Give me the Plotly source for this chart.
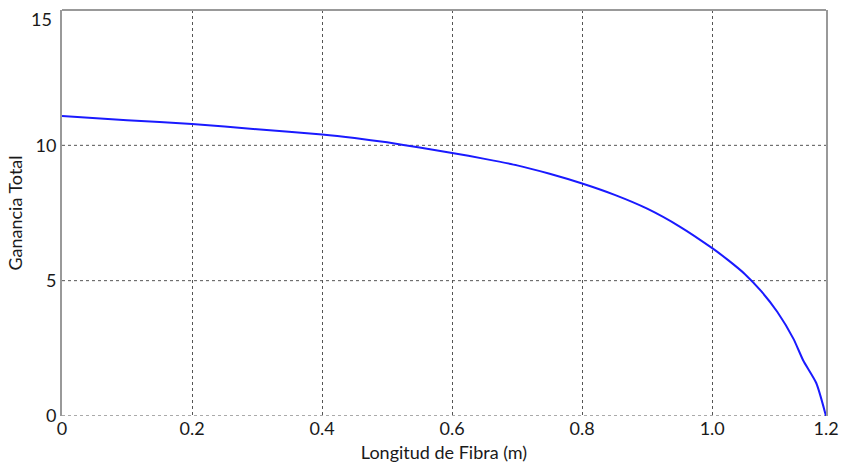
import plotly.graph_objects as go

longitud = [0, 0.1, 0.2, 0.3, 0.4, 0.45, 0.5, 0.55, 0.6, 0.65, 0.7, 0.75, 0.8, 0.85, 0.9, 0.95,
            1.0, 1.025, 1.05, 1.075, 1.1, 1.125, 1.14, 1.16, 1.175]
ganancia = [11.08, 10.93, 10.79, 10.59, 10.40, 10.27, 10.11, 9.92, 9.72, 9.50, 9.26, 8.95, 8.59,
            8.17, 7.66, 7.00, 6.20, 5.75, 5.25, 4.62, 3.85, 2.85, 2.05, 1.22, 0]

x_tickvals = [0, 0.2, 0.4, 0.6, 0.8, 1.0, 1.175]
x_ticktext = ["0", "0.2", "0.4", "0.6", "0.8", "1.0", "1.2"]
y_tickvals = [0, 5, 10, 15]
y_ticktext = ["0", "5", "10", "15"]

font = dict(family="Lato, Open Sans, sans-serif", size=18, color="#1a1a1a")

fig = go.Figure()
fig.add_trace(go.Scatter(x=longitud, y=ganancia, mode="lines",
                         line=dict(color="#1a1aff", width=2, shape="spline", smoothing=0.6),
                         showlegend=False))

fig.update_layout(
    width=847, height=470,
    margin=dict(l=62, r=21, t=10, b=54),
    paper_bgcolor="white", plot_bgcolor="white",
    font=font,
    xaxis=dict(range=[0, 1.175], tickvals=x_tickvals, ticktext=x_ticktext,
               showgrid=True, gridcolor="#555", griddash="dot", gridwidth=1,
               zeroline=False, showline=False, ticks="", automargin=False,
               title=dict(text="Longitud de Fibra (m)", standoff=8, font=font)),
    yaxis=dict(range=[0, 15], tickvals=y_tickvals[:-1], ticktext=y_ticktext[:-1],
               showgrid=False, zeroline=False, showline=True, linecolor="#999",
               linewidth=2, mirror=True, ticks="", automargin=False,
               title=dict(text="Ganancia Total", standoff=8, font=font)),
    shapes=[
        dict(type="line", xref="paper", yref="paper", x0=0, x1=1, y0=1, y1=1,
             line=dict(color="#999", width=2)),
    ] + [
        dict(type="line", xref="paper", yref="y", x0=0, x1=1, y0=v, y1=v,
             line=dict(color="#555", width=1, dash="dot"), layer="below")
        for v in y_tickvals[:-1]
    ],
    annotations=[dict(x=0, xref="paper", y=y_tickvals[-1], yref="y",
                      text=y_ticktext[-1], showarrow=False, xanchor="right",
                      yanchor="top", xshift=-8, yshift=4, font=font)],
)

fig.write_html("out.html")
